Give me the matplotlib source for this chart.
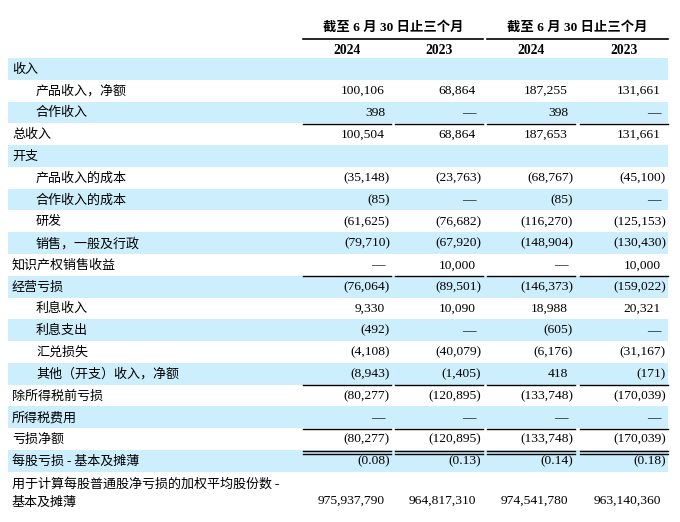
import matplotlib
matplotlib.use("Agg")
from matplotlib import pyplot as plt

# table data
group_title = "截至 6 月 30 日止三个月"
years = ["2024", "2023", "2024", "2023"]

labels = [
    "收入",
    "产品收入，净额",
    "合作收入",
    "总收入",
    "开支",
    "产品收入的成本",
    "合作收入的成本",
    "研发",
    "销售，一般及行政",
    "知识产权销售收益",
    "经营亏损",
    "利息收入",
    "利息支出",
    "汇兑损失",
    "其他（开支）收入，净额",
    "除所得税前亏损",
    "所得税费用",
    "亏损净额",
    "每股亏损 - 基本及摊薄",
]
indented = [0, 1, 1, 0, 0, 1, 1, 1, 1, 0, 0, 1, 1, 1, 1, 0, 0, 0, 0]

# None = blank, 0 = dash
q_2024 = [None, 100106, 398, 100504, None, -35148, -85, -61625, -79710, 0,
          -76064, 9330, -492, -4108, -8943, -80277, 0, -80277, -0.08]
q_2023 = [None, 68864, 0, 68864, None, -23763, 0, -76682, -67920, 10000,
          -89501, 10090, 0, -40079, -1405, -120895, 0, -120895, -0.13]
h_2024 = [None, 187255, 398, 187653, None, -68767, -85, -116270, -148904, 0,
          -146373, 18988, -605, -6176, 418, -133748, 0, -133748, -0.14]
h_2023 = [None, 131661, 0, 131661, None, -45100, 0, -125153, -130430, 10000,
          -159022, 20321, 0, -31167, -171, -170039, 0, -170039, -0.18]

shares_label = ["用于计算每股普通股净亏损的加权平均股份数 -", "基本及摊薄"]
shares = [975937790, 964817310, 974541780, 963140360]

# rows that get a rule below them
single_rules = [2, 9, 14, 16]
double_rules = [17]

columns = [q_2024, q_2023, h_2024, h_2023]

CJK = ["Noto Sans CJK SC", "DejaVu Sans"]
SERIF = ["Liberation Serif", "Noto Sans CJK SC"]
band_color = "#cdeefc"

top = 58
row_h = 21.78
col_spans = [(303, 391), (395, 483), (487, 575), (580, 668)]
num_right = [385, 476, 568, 661]


def fmt(v):
    if v is None:
        return ""
    if v == 0:
        return "—"
    if isinstance(v, float):
        s = "%.2f" % abs(v)
    else:
        s = "{:,}".format(abs(v))
    return "(" + s + ")" if v < 0 else s


fig = plt.figure(figsize=(6.8, 5.22), dpi=100)
ax = fig.add_axes([0, 0, 1, 1])
ax.set_xlim(0, 680)
ax.set_ylim(522, 0)
ax.axis("off")

# header
for gx0, gx1 in [(303, 483), (487, 668)]:
    ax.text((gx0 + gx1) / 2, 27, group_title, ha="center", va="center",
            fontsize=9.6, fontweight="bold", family=SERIF)
    ax.plot([gx0, gx1], [38.5, 38.5], color="black", lw=1.2)
for (x0, x1), yr in zip(col_spans, years):
    ax.text((x0 + x1) / 2, 50, yr, ha="center", va="center",
            fontsize=9.8, fontweight="bold", family=SERIF)

# body rows
for i, lab in enumerate(labels):
    y0 = top + i * row_h
    yc = y0 + row_h / 2
    if i % 2 == 0:
        ax.axhspan(y0, y0 + row_h, xmin=8 / 680, xmax=668 / 680,
                   color=band_color, lw=0, zorder=0)
    ax.text(36 if indented[i] else 12, yc + 0.5, lab, ha="left", va="center",
            fontsize=9.4, family=CJK)
    for c, col in enumerate(columns):
        v = col[i]
        s = fmt(v)
        if not s:
            continue
        x = num_right[c] + (5 if (v is not None and v < 0) else 0)
        ax.text(x, yc + 0.5, s, ha="right", va="center",
                fontsize=9.7, family=SERIF)
    if i in single_rules or i in double_rules:
        yl = y0 + row_h + 0.5
        for x0, x1 in col_spans:
            ax.plot([x0, x1], [yl, yl], color="black", lw=1.0, zorder=3)
            if i in double_rules:
                ax.plot([x0, x1], [yl + 3, yl + 3], color="black", lw=1.0,
                        zorder=3)

# weighted average shares row
ax.text(12, 484, shares_label[0], ha="left", va="center", fontsize=9.4, family=CJK)
ax.text(12, 502, shares_label[1], ha="left", va="center", fontsize=9.4, family=CJK)
for c, v in enumerate(shares):
    ax.text(num_right[c], 501, fmt(v), ha="right", va="center",
            fontsize=9.7, family=SERIF)

fig.savefig("out.png", dpi=100)
